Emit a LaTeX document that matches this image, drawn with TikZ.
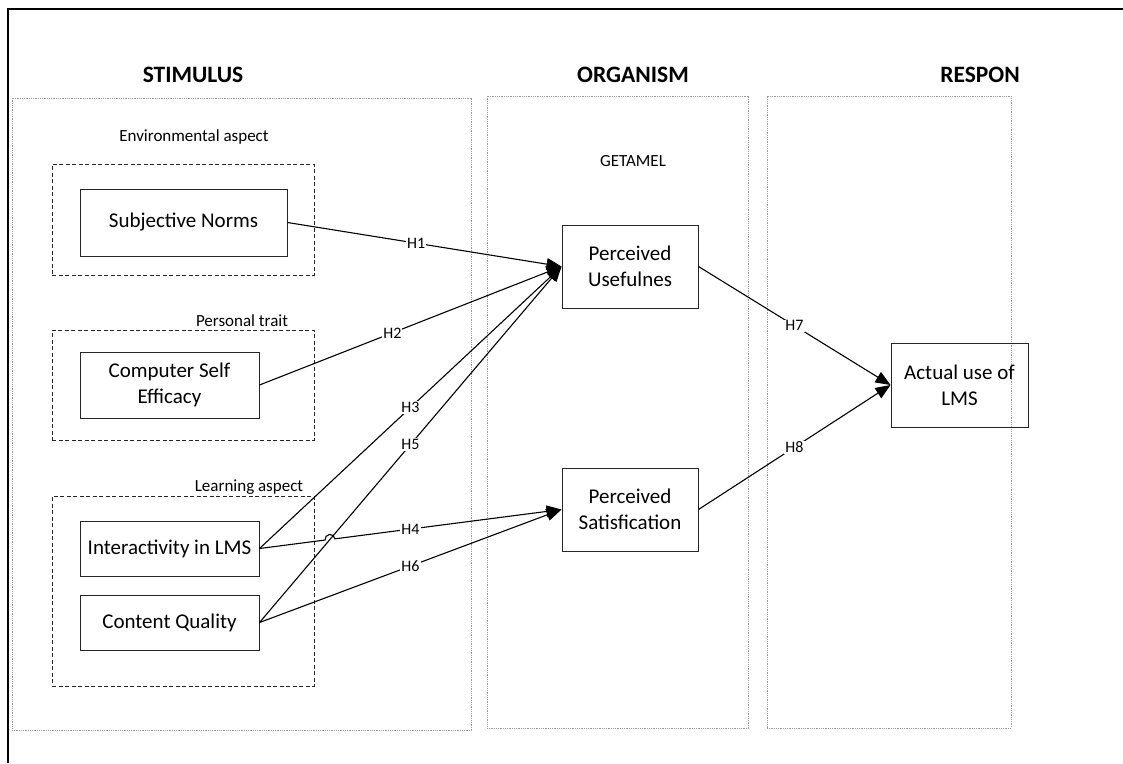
\documentclass[tikz,border=0pt]{standalone}
\usepackage{fontspec}
\setmainfont{Carlito}
\usetikzlibrary{arrows.meta,calc,intersections}
\begin{document}
\begin{tikzpicture}[x=1pt,y=-1pt,
 panel/.style={draw=gray!80, line width=1pt, dash pattern=on 1pt off 0.8pt, inner sep=0pt},
 group/.style={draw=black!85, line width=0.9pt, dash pattern=on 4pt off 2.5pt, inner sep=0pt},
 box/.style={draw=black!85, line width=1pt, inner sep=0pt, align=center, font=\fontsize{21}{26}\selectfont},
 title/.style={font=\fontsize{23.5}{27}\selectfont\bfseries, inner sep=0pt},
 note/.style={font=\fontsize{17}{20}\selectfont, inner sep=0pt},
 link/.style={line width=1.1pt, -{Triangle[length=15pt,width=12pt]}},
 lbl/.style={font=\fontsize{16}{18}\selectfont, fill=white, inner sep=1pt}]
\useasboundingbox (0,0) rectangle (1123,763);
\fill[white] (0,0) rectangle (1123,763);
% outer frame (cropped)
\draw[line width=2.2pt] (1123,9) -| (8,763);

% titles
\node[title] (tstim) at (193,75) {STIMULUS};
\node[title] (torg) at (633,75) {ORGANISM};
\node[title] (tres) at (980,75) {RESPON};

% panels
\node[panel, minimum width=459, minimum height=632] (stim) at (241.5,414) {};
\node[panel, minimum width=261, minimum height=632] (org) at (617.5,412) {};
\node[panel, minimum width=244, minimum height=632] (res) at (889,412) {};

% groups
\node[group, minimum width=262, minimum height=111] (genv) at (183,219.5) {};
\node[group, minimum width=262, minimum height=110] (gper) at (183,385) {};
\node[group, minimum width=262, minimum height=190] (glrn) at (183,591) {};
\node[note] (lenv) at (194,137) {Environmental aspect};
\node[note] (lper) at (242,321) {Personal trait};
\node[note] (llrn) at (249,487) {Learning aspect};
\node[note] (lget) at (633,161) {GETAMEL};

% boxes
\node[box, minimum width=207, minimum height=67] (sn) at (183.5,222.5) {Subjective Norms};
\node[box, minimum width=179, minimum height=66] (cse) at (169.5,385) {Computer Self\\Efficacy};
\node[box, minimum width=179, minimum height=55] (ia) at (169.5,548.5) {Interactivity in LMS};
\node[box, minimum width=179, minimum height=55] (cq) at (169.5,622.5) {Content Quality};
\node[box, minimum width=136, minimum height=83] (pu) at (630,266.5) {Perceived\\Usefulnes};
\node[box, minimum width=136, minimum height=83] (ps) at (630,509.5) {Perceived\\Satisfication};
\node[box, minimum width=137, minimum height=84] (act) at (959.5,385) {Actual use of\\LMS};

% connectors
\path[name path=p5] (cq.east) -- (pu.west);
\path[name path=p4] (ia.east) -- (ps.west);
\path[name intersections={of=p4 and p5, by=x45}];

\draw[link] (sn.east) -- (pu.west);
\draw[link] (cse.east) -- (pu.west);
\draw[link] (ia.east) -- (pu.west);
\draw[link] (cq.east) -- (pu.west);
\draw[link] (ia.east) -- ($(x45)!5pt!(ia.east)$) arc[start angle=187, end angle=7, radius=5pt] -- (ps.west);
\draw[link] (cq.east) -- (ps.west);
\draw[link] (pu.east) -- (act.west);
\draw[link] (ps.east) -- (act.west);

% labels
\path (sn.east) -- (pu.west) node[lbl, pos=0.47] {H1};
\path (cse.east) -- (pu.west) node[lbl, pos=0.44] {H2};
\path (ia.east) -- (pu.west) node[lbl, pos=0.5] {H3};
\path (ia.east) -- (ps.west) node[lbl, pos=0.5] {H4};
\path (cq.east) -- (pu.west) node[lbl, pos=0.5] {H5};
\path (cq.east) -- (ps.west) node[lbl, pos=0.5] {H6};
\path (pu.east) -- (act.west) node[lbl, pos=0.5] {H7};
\path (ps.east) -- (act.west) node[lbl, pos=0.5] {H8};
\end{tikzpicture}
\end{document}
